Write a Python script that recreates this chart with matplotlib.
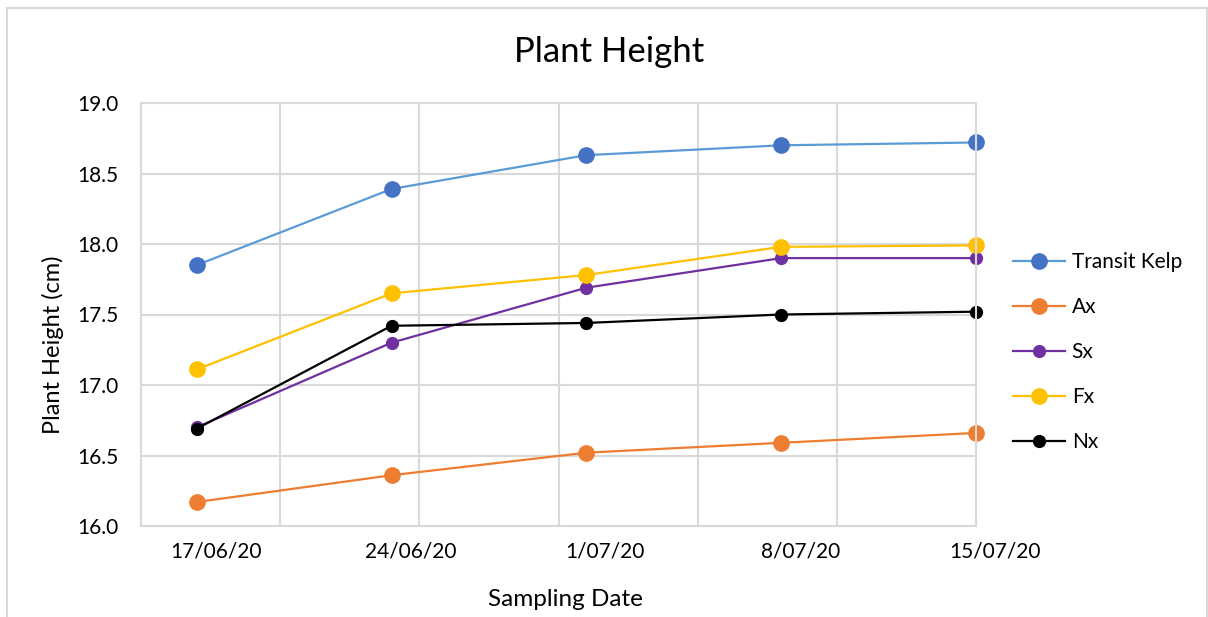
import datetime as dt
import matplotlib
matplotlib.use("Agg")
import matplotlib.pyplot as plt
import matplotlib.dates as mdates
from matplotlib.patches import Rectangle
from matplotlib.transforms import ScaledTranslation

plt.rcParams['font.family'] = ['Lato', 'DejaVu Sans']

# sampling dates and mean plant height (cm) per treatment
dates = [dt.date(2020, 6, 17), dt.date(2020, 6, 24), dt.date(2020, 7, 1),
         dt.date(2020, 7, 8), dt.date(2020, 7, 15)]
date_labels = ["17/06/20", "24/06/20", "1/07/20", "8/07/20", "15/07/20"]

transit_kelp = [17.85, 18.39, 18.63, 18.70, 18.72]
ax_vals = [16.17, 16.36, 16.52, 16.59, 16.66]
sx_vals = [16.70, 17.30, 17.69, 17.90, 17.90]
fx_vals = [17.11, 17.65, 17.78, 17.98, 17.99]
nx_vals = [16.69, 17.42, 17.44, 17.50, 17.52]

# (label, values, line colour, marker colour, marker size)
series = [
    ("Transit Kelp", transit_kelp, "#5B9BD5", "#4472C4", 11),
    ("Ax", ax_vals, "#ED7D31", "#ED7D31", 11),
    ("Sx", sx_vals, "#7030A0", "#7030A0", 8.5),
    ("Fx", fx_vals, "#FFC000", "#FFC000", 11),
    ("Nx", nx_vals, "#000000", "#000000", 8.5),
]

W, H = 1208, 617
fig = plt.figure(figsize=(W / 100, H / 100), dpi=100)
ax = fig.add_axes([141 / W, 1 - 526 / H, (976 - 141) / W, (526 - 103) / H])

for label, vals, lc, mc, ms in series:
    ax.plot(dates, vals, color=lc, lw=1.6, marker='o', ms=ms,
            markerfacecolor=mc, markeredgecolor=mc, label=label, clip_on=False)

grid_col = "#d9d9d9"
ax.set_xlim(dt.date(2020, 6, 15), dt.date(2020, 7, 15))
ax.set_ylim(16.0, 19.0)
ax.set_yticks([16.0, 16.5, 17.0, 17.5, 18.0, 18.5, 19.0])
ax.yaxis.set_major_formatter(plt.FormatStrFormatter('%.1f'))

# vertical gridlines every 5 days, labels at sampling dates
ax.xaxis.set_minor_locator(mdates.DayLocator(bymonthday=[5, 10, 15, 20, 25, 30]))
ax.set_xticks(dates)
ax.set_xticklabels(date_labels)
ax.grid(True, which='minor', axis='x', color=grid_col, lw=1.5)
ax.grid(True, which='major', axis='y', color=grid_col, lw=1.5)
ax.set_axisbelow(True)
for s in ax.spines.values():
    s.set_color(grid_col)
    s.set_linewidth(1.5)
ax.tick_params(which='both', length=0)
ax.tick_params(axis='y', labelsize=15, pad=16, colors='#000000')
ax.tick_params(axis='x', labelsize=15, pad=11)
shift = ScaledTranslation(19 / 100, 0, fig.dpi_scale_trans)
for t in ax.get_xticklabels():
    t.set_transform(t.get_transform() + shift)

fig.text(609 / W, 1 - 52 / H, "Plant Height", fontsize=25,
         ha='center', va='center')
fig.text(53 / W, 1 - 345 / H, "Plant Height (cm)", fontsize=17,
         rotation=90, ha='center', va='center')
fig.text(565 / W, 1 - 600 / H, "Sampling Date", fontsize=17.5,
         ha='center', va='center')

leg = fig.legend(loc='upper left', bbox_to_anchor=(1005 / W, 1 - 244 / H),
                 frameon=False, fontsize=15, handlelength=2.5,
                 handletextpad=0.3, labelspacing=1.2, borderaxespad=0)

# chart area outline
fig.add_artist(Rectangle((7.5 / W, -0.1), (1206.5 - 7.5) / W, 1.1 - 8 / H,
                         fill=False, edgecolor=grid_col, lw=1.5,
                         transform=fig.transFigure))

fig.savefig("out.png", dpi=100)
